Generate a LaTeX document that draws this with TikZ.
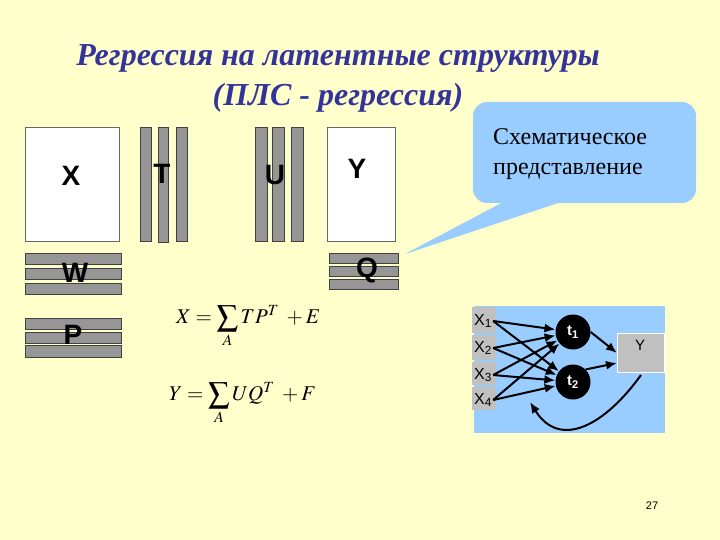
\documentclass[tikz,border=0pt]{standalone}
\usepackage{mathptmx}
\usepackage{fontspec}
\setmainfont{Liberation Serif}
\newfontfamily\arialf{Liberation Sans}
\usetikzlibrary{arrows.meta}
\definecolor{bgy}{HTML}{FFFFCC}
\definecolor{titleblue}{HTML}{333399}
\definecolor{lblue}{HTML}{99CCFF}
\definecolor{barg}{HTML}{969696}
\definecolor{boxg}{HTML}{C0C0C0}
\newcommand{\bigsum}{\mathop{\raisebox{-3pt}{\scalebox{1.45}{$\sum$}}}\limits}
\tikzset{
  bar/.style={draw=black!75, fill=barg, line width=0.6pt},
  mat/.style={draw=black!60, fill=white, line width=0.6pt},
  biglbl/.style={font=\arialf\bfseries\fontsize{28}{28}\selectfont, inner sep=0pt},
  xl/.style={font=\arialf\fontsize{16}{16}\selectfont, inner sep=0pt},
  xbox/.style={fill=boxg},
  tc/.style={circle, fill=black, minimum size=35, inner sep=0pt, text=white, font=\arialf\bfseries\fontsize{15}{15}\selectfont},
  arr/.style={-{Latex[length=11pt,width=9pt]}, line width=2pt},
}
\begin{document}
\begin{tikzpicture}[x=1pt,y=-1pt]
\fill[bgy] (0,0) rectangle (720,540);
\useasboundingbox (0,0) rectangle (720,540);
% title
\node[text=titleblue, font=\bfseries\itshape\fontsize{32}{40}\selectfont, align=center] (title) at (338,78) {Регрессия на латентные структуры\\(ПЛС - регрессия)};
% X matrix
\draw[mat] (25,127) rectangle (119,241);
\node[biglbl] (lx) at (71,176) {X};
% T bars
\draw[bar] (140,127) rectangle (151,241);
\draw[bar] (158,127) rectangle (168,242);
\draw[bar] (176,127) rectangle (187,241);
\node[biglbl] (lt) at (162,174) {T};
% U bars
\draw[bar] (255,127) rectangle (267,241);
\draw[bar] (272,127) rectangle (284,241);
\draw[bar] (291,127) rectangle (303,241);
\node[biglbl] (lu) at (275,175) {U};
% Y matrix
\draw[mat] (327,127) rectangle (395,241);
\node[biglbl] (ly) at (357,169) {Y};
% W bars
\draw[bar] (25,253) rectangle (121,264);
\draw[bar] (25,268) rectangle (121,279);
\draw[bar] (25,283) rectangle (121,294);
\node[biglbl] (lw) at (75,273) {W};
% P bars
\draw[bar] (25,318) rectangle (121,329);
\draw[bar] (25,332) rectangle (121,343);
\draw[bar] (25,345) rectangle (121,357);
\node[biglbl] (lp) at (73,335) {P};
% Q bars
\draw[bar] (329,253) rectangle (398,263);
\draw[bar] (329,266) rectangle (398,276);
\draw[bar] (329,279) rectangle (398,289);
\node[biglbl] (lq) at (367,270) {Q};
% formulas
\node[font=\fontsize{21}{24}\selectfont, anchor=base west, inner sep=0pt] (f1) at (176,323) {$X=\bigsum_{A}TP^{T}\;+E$};
\node[font=\fontsize{21}{24}\selectfont, anchor=base west, inner sep=0pt] (f2) at (169,400) {$Y=\bigsum_{A}UQ^{T}\;+F$};
% callout
\fill[lblue] (507,200) -- (405,254) -- (567,200) -- cycle;
\node[fill=lblue, rounded corners=14pt, minimum width=223, minimum height=101, inner sep=0pt] (co) at (584.5,152.5) {};
\node[anchor=west, align=left, font=\fontsize{24}{30}\selectfont, inner sep=0pt] (cot) at (493,154) {Схематическое\\представление};
% network panel
\fill[lblue] (474,306) rectangle (665,433);
\fill[xbox] (472,307) rectangle (496,333);
\fill[xbox] (472,335) rectangle (496,360);
\fill[xbox] (472,362) rectangle (496,385);
\fill[xbox] (472,387) rectangle (496,410);
\node[xl, anchor=west] (x1) at (474,321) {X\textsubscript{1}};
\node[xl, anchor=west] (x2) at (474,348) {X\textsubscript{2}};
\node[xl, anchor=west] (x3) at (474,375) {X\textsubscript{3}};
\node[xl, anchor=west] (x4) at (474,400) {X\textsubscript{4}};
\node[tc] (t1) at (573,332) {t\textsubscript{1}};
\node[tc] (t2) at (573,382) {t\textsubscript{2}};
\node[draw=white, line width=1pt, fill=boxg, minimum width=47, minimum height=39, inner sep=0pt, anchor=north west] (yb) at (617,333) {};
\node[font=\arialf\fontsize{15}{15}\selectfont, inner sep=0pt] (ybl) at (640,345) {Y};
\foreach \s in {x1,x2,x3,x4}{
  \draw[arr] ([xshift=1pt]\s.east) -- (t1);
  \draw[arr] ([xshift=1pt]\s.east) -- (t2);
}
\draw[arr] (t1.east) -- (yb.west);
\draw[arr] (t2.north east) -- ([yshift=10pt]yb.south west);
\coordinate (fb) at (530,402);
\draw[arr] ([yshift=-2pt]yb.south) .. controls (605,425) and (560,450) .. (fb);
% page number
\node[font=\arialf\fontsize{11}{11}\selectfont] (pn) at (652,506) {27};
\end{tikzpicture}
\end{document}
